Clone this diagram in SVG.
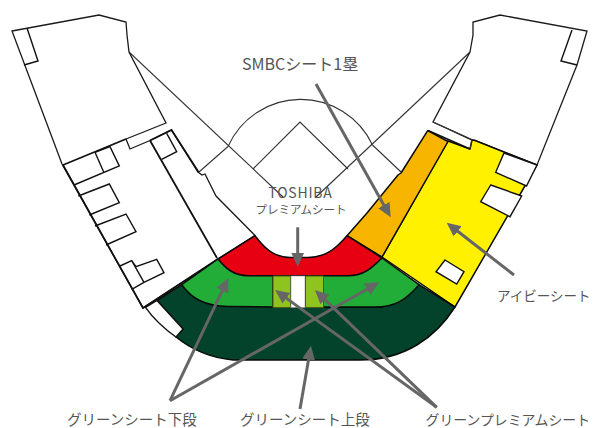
<svg xmlns="http://www.w3.org/2000/svg" width="595" height="428" viewBox="0 0 595 428">
<style>
.thin{fill:none;stroke:#333;stroke-width:1.1;stroke-linejoin:miter}
.st{fill:#fff;stroke:#1a1a1a;stroke-width:1.3}
.thick{fill:none;stroke:#111;stroke-width:1.8}
.seat{stroke:#0a0a0a;stroke-width:1.5;stroke-linejoin:round}
.box{fill:#fff;stroke:#111;stroke-width:1.4}
.line{fill:none;stroke:#111;stroke-width:1.4}
.arrow{fill:none;stroke:#666;stroke-width:3;marker-end:url(#head)}
text{font-family:"Noto Sans CJK JP","Liberation Sans",sans-serif;fill:#555}
</style>
<defs>
<marker id="head" markerUnits="userSpaceOnUse" markerWidth="15" markerHeight="14" refX="7" refY="7" orient="auto" viewBox="0 0 15 14">
<polygon points="0,0.5 14,7 0,13.500" fill="#666"/>
</marker>
</defs>
<rect width="595" height="428" fill="#fff"/>
<g id="field">
<path class="thin" d="M228 146.500A79.500 79.500 0 0 1 372.500 145"/>
<path class="thin" d="M253 169L300 122L348 169"/>
<path class="thin" d="M129 52L283 197"/>
<path class="thin" d="M470 52L316 197"/>
<path class="thin" d="M228 146.500L199 172"/>
<path class="thin" d="M372.500 145L401 172"/>
</g>
<g id="stand-left">
<path class="st" d="M12 31L99 15L126 22L127 35L129 52L166 123L126 139L130 149L150 140.500L171.500 130L198 172L202 175L205 174L216 196L255 235.500L218 259L143 308L62 164Z"/>
<path class="line" d="M27 28L38 61L24 65"/>
<path class="line" d="M166.700 133.300L176.700 151.700L161.700 159.300"/>
<path class="line" d="M95 152.300L110 146.700L119.300 166L74 185M95 152.300L104 172.700"/>
<path class="line" d="M78.300 196L109.300 184L119.300 202.700L89.300 215"/>
<path class="line" d="M95 226L126 214L136 231.700L106 245"/>
<path class="line" d="M120 266L131.700 260.700L136 266.700L156.700 259.300L164 272.700L144 282.300L131.700 289.300M131.700 260.700L144 282.300"/>
<path class="thick" d="M63 165L126 139M150 140.500L217 258M63 165L143 308L218 259M150 140.500L171.500 130L198.500 172"/>
</g>
<g id="stand-right">
<path class="st" d="M470 52L473 35L473 22L500 15L587 31L577 65L537 165L475 140.500L472 140L433 122Z"/>
<path class="line" d="M572 30L561 61L577 65"/>
</g>
<g id="ivy-seat">
<path class="seat" fill="#fff100" d="M448 141L470 149L472 140L475 140.500L537 165L455 307L382 257Z"/>
<path class="box" d="M504 153L537 165L526.500 186L495.700 172.300Z"/>
<path class="box" d="M490.700 185L521.700 196L510 216.700L480.700 201.700Z"/>
<path class="box" d="M445 260L464 271.700L456.700 284L436 271.700Z"/>
<path class="thin" d="M433 122L472 139.500L470 149"/>
<path d="M428 130.500L470 149" class="thick"/>
<text x="497" y="301" font-size="13.500">アイビーシート</text>
</g>
<g id="smbc-seat">
<path class="seat" fill="#f8b500" d="M347 235.700L367 213L398 175L401 173L427.700 130.700L448 141.500L382 257Z"/>
<text x="242" y="70" font-size="16">SMBCシート1塁</text>
</g>
<g id="toshiba-seat">
<path class="seat" fill="#e60012" d="M218 259L255 235.700C263 246 272 257 290 257.500L308 257.500C328 257 338 246 347 235.700L382 258C372 268 364 275.700 348 275.700L248 275.700C234 275.700 226 269 218 259Z"/>
<text x="300.500" y="198" font-size="14" letter-spacing=".8" text-anchor="middle">TOSHIBA</text>
<text x="301" y="214" font-size="11.500" text-anchor="middle">プレミアムシート</text>
</g>
<g id="green-upper">
<path class="seat" fill="#03432b" d="M157 300.500L181.700 284.700L273 307L382 307L419 284.700L455 307C436 337 405 360 360 360L233 360C212 358 192 350 176 337L183 329Z"/>
<path class="box" d="M145.500 307.300L157 300.500L183 329L176 337C162 327 153 318 145.500 307.300Z"/>
<text x="240" y="425" font-size="14.500">グリーンシート上段</text>
</g>
<g id="green-lower">
<path class="seat" fill="#22ac38" d="M181.700 284.700L218 259C226 269 234 275.700 248 275.700L273 275.700L273 307L228 306.500C205 306 192 299 181.700 284.700Z"/>
<path class="seat" fill="#22ac38" d="M323 275.700L348 275.700C364 275.700 372 268 382 258L419 284.700C406 300 395 307 375 307L323 307Z"/>
<text x="67" y="425" font-size="14.500">グリーンシート下段</text>
</g>
<g id="green-premium">
<path fill="#8fc31f" stroke="#4a5a10" stroke-width="1" d="M273 276L290.500 276L290.500 307.500L273 307.500Z"/>
<path fill="#fff" stroke="#999" stroke-width=".6" d="M291 276L305 276L305 307.500L291 307.500Z"/>
<path fill="#8fc31f" stroke="#4a5a10" stroke-width="1" d="M305.500 276L323.500 276L323.500 307.500L305.500 307.500Z"/>
<text x="425.500" y="425" font-size="13.900">グリーンプレミアムシート</text>
</g>
<g id="connectors">
<path class="arrow" d="M316 84L387.300 211.200"/>
<path class="arrow" d="M297.700 227.300L297.700 259.700"/>
<path class="arrow" d="M514 275L452.200 227"/>
<path class="arrow" d="M170 400.700L225.300 284.300"/>
<path class="arrow" d="M170 400.700L373.200 285.800"/>
<path class="arrow" d="M300 409L309.800 352.600"/>
<path class="arrow" d="M436.700 407.300L320 294.900"/>
<path class="arrow" d="M436.700 407.300L280.700 294.100"/>
</g>
</svg>
